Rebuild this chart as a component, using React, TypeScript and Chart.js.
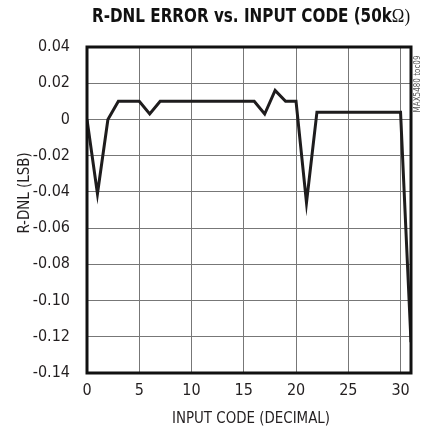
import React, { useEffect, useRef } from "react";
import { Chart, registerables } from "chart.js";

Chart.register(...registerables);

// ---- data ----
const inputCodes = [0, 1, 2, 3, 4, 5, 6, 7, 8, 9, 10, 11, 12, 13, 14, 15, 16, 17, 18, 19, 20, 21, 22, 23, 24, 25, 26, 27, 28, 29, 30, 31];
const rdnlLsb = [0, -0.041, 0, 0.01, 0.01, 0.01, 0.003, 0.01, 0.01, 0.01, 0.01, 0.01, 0.01, 0.01, 0.01, 0.01, 0.01, 0.003, 0.016, 0.01, 0.01, -0.046, 0.004, 0.004, 0.004, 0.004, 0.004, 0.004, 0.004, 0.004, 0.004, -0.123];
const xMin = 0;
const xMax = 31;
const xStep = 5;
const yMin = -0.14;
const yMax = 0.04;
const yStep = 0.02;
const titleMain = "R-DNL ERROR vs. INPUT CODE (50k";
const titleUnit = "Ω)";
const xTitle = "INPUT CODE (DECIMAL)";
const yTitle = "R-DNL (LSB)";
const watermark = "MAX5480 toc09";

function pickFont(cands: string[], fallback: string): string {
  const c = document.createElement("canvas").getContext("2d");
  if (!c) return fallback;
  const s = "R-DNL 0.123456789 ABCDEFGHIJ";
  for (const f of cands) {
    c.font = "20px monospace";
    const w1 = c.measureText(s).width;
    c.font = `20px "${f}", monospace`;
    const w2 = c.measureText(s).width;
    if (Math.abs(w1 - w2) > 0.5) return f;
  }
  return fallback;
}

export default function App() {
  const ref = useRef<HTMLCanvasElement | null>(null);
  useEffect(() => {
    const canvas = ref.current;
    if (!canvas) return;
    const fam = pickFont(["Liberation Sans Narrow", "Arial Narrow", "DejaVu Sans Condensed", "Roboto Condensed"], "Roboto");
    const famCss = `"${fam}", "Liberation Sans", sans-serif`;

    const framePlugin = {
      id: "frame",
      afterDraw(chart: any) {
        const { ctx, chartArea } = chart;
        const { left, top, right, bottom } = chartArea;
        ctx.save();
        ctx.strokeStyle = "#111";
        ctx.lineWidth = 3;
        ctx.strokeRect(left, top, right - left, bottom - top);

        const cx = (left + right) / 2 + 2;

        // title (condensed to match reference width)
        ctx.fillStyle = "#111";
        ctx.textBaseline = "middle";
        const fMain = `bold 19px ${famCss}`;
        const fUnit = `19px "Liberation Serif", serif`;
        ctx.font = fMain;
        const w1 = ctx.measureText(titleMain).width;
        ctx.font = fUnit;
        const w2 = ctx.measureText(titleUnit).width;
        const targetW = 318;
        const sx = targetW / (w1 + w2);
        ctx.save();
        ctx.translate(cx - targetW / 2, 17);
        ctx.scale(sx, 1);
        ctx.textAlign = "left";
        ctx.font = fMain;
        ctx.fillText(titleMain, 0, 0);
        ctx.font = fUnit;
        ctx.fillText(titleUnit, w1, 0);
        ctx.restore();

        // x title
        ctx.font = `16px ${famCss}`;
        ctx.fillStyle = "#231f20";
        ctx.textAlign = "center";
        const wx = ctx.measureText(xTitle).width;
        const condense = 158 / wx;
        ctx.save();
        ctx.translate(cx, 419);
        ctx.scale(condense, 1);
        ctx.fillText(xTitle, 0, 0);
        ctx.restore();

        // y title
        ctx.save();
        ctx.translate(25, 193);
        ctx.rotate(-Math.PI / 2);
        ctx.scale(condense, 1);
        ctx.fillText(yTitle, 0, 0);
        ctx.restore();

        // watermark
        ctx.save();
        ctx.translate(418, 84);
        ctx.rotate(-Math.PI / 2);
        ctx.font = `8px ${famCss}`;
        ctx.fillStyle = "#555";
        ctx.fillText(watermark, 0, 0);
        ctx.restore();
        ctx.restore();
      },
    };

    const chart = new Chart(canvas, {
      type: "line",
      data: {
        datasets: [
          {
            data: inputCodes.map((x, i) => ({ x, y: rdnlLsb[i] })),
            borderColor: "#1e1c1d",
            borderWidth: 3,
            pointRadius: 0,
            tension: 0,
            fill: false,
          },
        ],
      },
      options: {
        animation: false,
        responsive: false,
        devicePixelRatio: 1,
        layout: { padding: { top: 47, right: 11, left: 0, bottom: 0 } },
        plugins: {
          legend: { display: false },
          title: { display: false },
          tooltip: { enabled: false },
        },
        scales: {
          x: {
            type: "linear",
            min: xMin,
            max: xMax,
            ticks: {
              stepSize: xStep,
              includeBounds: false,
              autoSkip: false,
              maxRotation: 0,
              color: "#231f20",
              font: { family: famCss, size: 16 },
              padding: 8,
            },
            grid: { color: "#777", lineWidth: 1, drawTicks: false },
            border: { display: false },
            afterFit(s: any) {
              s.height = 57;
            },
          },
          y: {
            min: yMin,
            max: yMax,
            ticks: {
              stepSize: yStep,
              color: "#231f20",
              font: { family: famCss, size: 16 },
              padding: 17,
              callback: (v: any) => {
                const n = Math.round(Number(v) * 100) / 100;
                return n === 0 ? "0" : n.toFixed(2);
              },
            },
            grid: { color: "#777", lineWidth: 1, drawTicks: false },
            border: { display: false },
            afterFit(s: any) {
              s.width = 87;
            },
          },
        },
      },
      plugins: [framePlugin],
    } as any);
    return () => chart.destroy();
  }, []);

  return (
    <div style={{ position: "fixed", left: 0, top: 0, width: 422, height: 430, background: "#fff" }}>
      <canvas ref={ref} width={422} height={430} style={{ display: "block", width: 422, height: 430 }} />
    </div>
  );
}
